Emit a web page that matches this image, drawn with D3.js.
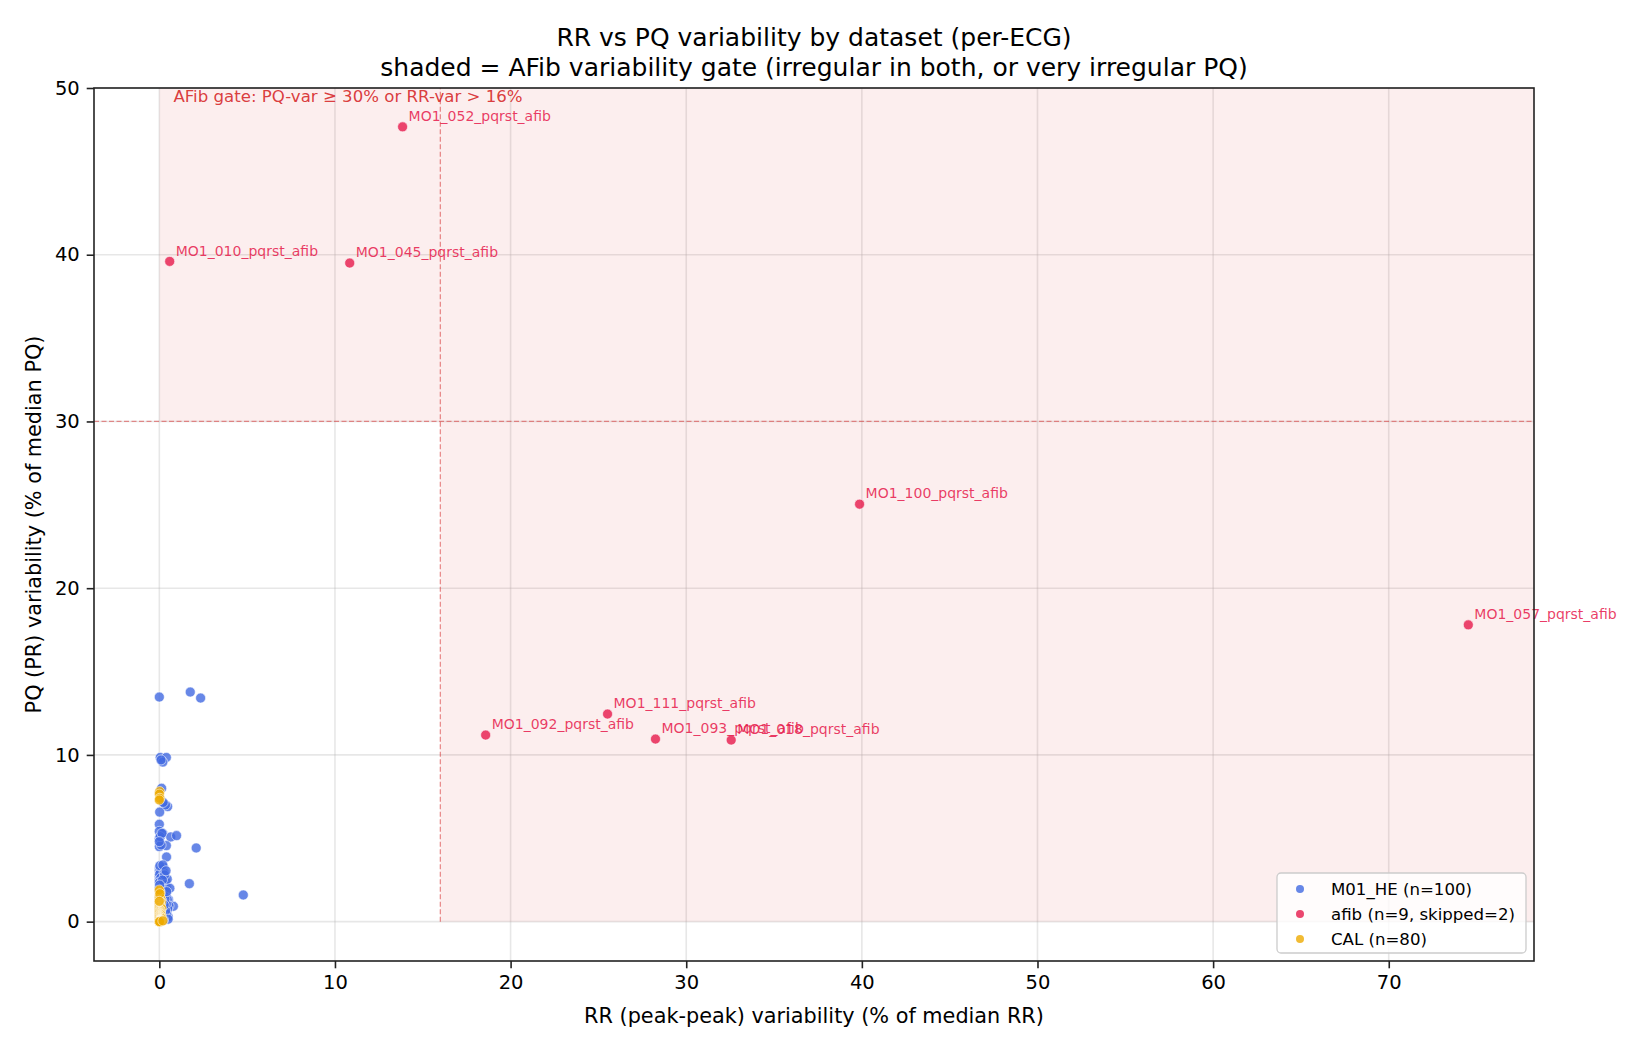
<!DOCTYPE html>
<html>
<head>
<meta charset="utf-8">
<script src="https://cdn.jsdelivr.net/npm/d3@7"></script>
<style>
  body { margin: 0; background: #fff; }
  svg text { font-family: "DejaVu Sans", sans-serif; }
</style>
</head>
<body>
<div class="chart"></div>
<script>
// RR vs PQ variability scatter

// M01_HE (n=100): RR variability (x) and PQ variability (y), % of median
var heRR = [0.00, 1.76, 2.35, 0.05, 0.40, 0.20, 0.13, 0.47, 0.35, 0.02,
  0.00, 0.00, 0.20, 0.65, 0.98, 0.00, 0.40, 0.00, 2.10, 0.41,
  1.71, 4.78, 0.80, 0.50, 0.52, 0.00, 0.10, 0.25, 0.00, 0.15,
  0.05, 0.12, 0.00, 0.30, 0.22, 0.00, 0.08, 0.35, 0.18, 0.40,
  0.25, 0.00, 0.10, 0.00, 0.30, 0.05, 0.15, 0.38, 0.20, 0.45,
  0.28, 0.10, 0.55, 0.35, 0.48, 0.20, 0.30, 0.42, 0.25, 0.15,
  0.05, 0.18, 0.02, 0.27, 0.08, 0.00, 0.33, 0.12, 0.22, 0.06,
  0.26, 0.40, 0.12, 0.00, 0.32, 0.60, 0.45, 0.03, 0.20, 0.15,
  0.00, 0.36, 0.08, 0.50, 0.24, 0.10, 0.05, 0.15, 0.00, 0.30,
  0.18, 0.02, 0.42, 0.14, 0.28, 0.06, 0.00, 0.38, 0.10, 0.22];
var hePQ = [13.47, 13.77, 13.41, 9.85, 9.85, 9.57, 8.00, 6.90, 7.00, 6.57,
  5.84, 5.42, 5.28, 5.08, 5.16, 5.00, 4.56, 4.50, 4.42, 3.88,
  2.28, 1.60, 0.92, 0.30, 1.32, 3.22, 3.22, 3.25, 3.06, 3.00,
  2.90, 2.72, 2.72, 2.65, 2.58, 2.52, 2.45, 2.40, 2.30, 2.10,
  2.06, 2.06, 1.98, 1.92, 1.85, 1.78, 1.70, 1.55, 1.45, 1.32,
  1.20, 1.10, 0.95, 0.85, 0.76, 0.70, 0.55, 0.45, 0.35, 0.20,
  3.10, 3.15, 2.85, 2.95, 2.62, 2.35, 2.20, 2.15, 1.95, 1.62,
  1.65, 1.05, 0.90, 1.40, 1.35, 2.00, 2.55, 3.35, 3.40, 0.50,
  0.80, 0.65, 0.30, 0.15, 0.10, 4.60, 5.10, 5.30, 4.80, 2.80,
  2.50, 2.20, 1.80, 1.25, 1.00, 0.60, 0.40, 3.05, 9.70, 7.15];

// afib (n=9)
var afibNames = ["MO1_052_pqrst_afib", "MO1_010_pqrst_afib", "MO1_045_pqrst_afib",
  "MO1_100_pqrst_afib", "MO1_057_pqrst_afib", "MO1_111_pqrst_afib",
  "MO1_092_pqrst_afib", "MO1_093_pqrst_afib", "MO1_018_pqrst_afib"];
var afibRR = [13.85, 0.59, 10.84, 39.87, 74.53, 25.52, 18.58, 28.25, 32.56];
var afibPQ = [47.67, 39.60, 39.50, 25.04, 17.80, 12.45, 11.19, 10.95, 10.89];

// CAL (n=80)
var calRR = [0.02, 0.00, 0.03, 0.00, 0.00, 0.05, 0.00, 0.02, 0.00, 0.08,
  0.00, 0.03, 0.00, 0.10, 0.00, 0.01, 0.00, 0.04, 0.00, 0.06,
  0.00, 0.02, 0.00, 0.12, 0.00, 0.03, 0.00, 0.05, 0.00, 0.01,
  0.00, 0.07, 0.00, 0.02, 0.00, 0.04, 0.00, 0.09, 0.00, 0.02,
  0.00, 0.03, 0.00, 0.06, 0.00, 0.01, 0.00, 0.04, 0.00, 0.15,
  0.00, 0.02, 0.00, 0.05, 0.00, 0.03, 0.00, 0.08, 0.00, 0.01,
  0.00, 0.04, 0.00, 0.02, 0.00, 0.06, 0.00, 0.03, 0.00, 0.10,
  0.00, 0.02, 0.00, 0.05, 0.00, 0.01, 0.00, 0.03, 0.00, 0.20];
var calPQ = [7.80, 7.65, 7.40, 7.30, 1.82, 1.75, 1.52, 1.60, 1.45, 1.38,
  1.30, 1.25, 1.18, 1.15, 1.10, 1.05, 1.00, 0.98, 0.95, 0.90,
  0.88, 0.85, 0.82, 0.80, 0.76, 0.72, 0.70, 0.68, 0.65, 0.62,
  0.60, 0.58, 0.55, 0.52, 0.50, 0.48, 0.45, 0.42, 0.40, 0.39,
  0.36, 0.34, 0.32, 0.30, 0.28, 0.26, 0.24, 0.22, 0.20, 0.18,
  0.16, 0.15, 0.14, 0.12, 0.11, 0.10, 0.09, 0.08, 0.07, 0.06,
  0.05, 0.05, 0.04, 0.04, 0.03, 0.03, 0.02, 0.02, 0.01, 0.01,
  0.00, 0.00, 0.00, 0.00, 0.00, 0.00, 1.90, 1.68, 1.22, 0.05];

var legendLabels = ["M01_HE (n=100)", "afib (n=9, skipped=2)", "CAL (n=80)"];
var xTicks = [0, 10, 20, 30, 40, 50, 60, 70];
var yTicks = [0, 10, 20, 30, 40, 50];
var gatePQ = 30;
var gateRR = 16;

var svgWidth = 1650;
var svgHeight = 1050;

var margin = {
  top: 88,
  bottom: 89,
  right: 116,
  left: 94
};

var height = svgHeight - margin.top - margin.bottom;
var width = svgWidth - margin.left - margin.right;

var colorHE = "#4169e1";
var colorAfib = "#e6194b";
var colorCAL = "#eeaa00";

var svg = d3.select(".chart")
  .append("svg")
  .attr("width", svgWidth)
  .attr("height", svgHeight);

var chartGroup = svg.append("g")
  .attr("transform", `translate(${margin.left}, ${margin.top})`);

// scales
var xLinearScale = d3.scaleLinear()
  .domain([-3.72, 78.27])
  .range([0, width]);

var yLinearScale = d3.scaleLinear()
  .domain([-2.36, 50])
  .range([height, 0]);

var xMax = xLinearScale.domain()[1];
var yMax = yLinearScale.domain()[1];

// grid
chartGroup.append("g")
  .selectAll("line")
  .data(xTicks)
  .enter()
  .append("line")
  .attr("x1", d => xLinearScale(d))
  .attr("x2", d => xLinearScale(d))
  .attr("y1", 0)
  .attr("y2", height)
  .attr("stroke", "#b0b0b0")
  .attr("stroke-opacity", 0.3)
  .attr("stroke-width", 1.6);

chartGroup.append("g")
  .selectAll("line")
  .data(yTicks)
  .enter()
  .append("line")
  .attr("x1", 0)
  .attr("x2", width)
  .attr("y1", d => yLinearScale(d))
  .attr("y2", d => yLinearScale(d))
  .attr("stroke", "#b0b0b0")
  .attr("stroke-opacity", 0.3)
  .attr("stroke-width", 1.6);

// shaded AFib gate
var shade = "rgba(214,39,40,0.08)";
chartGroup.append("rect")
  .attr("x", xLinearScale(0))
  .attr("y", yLinearScale(yMax))
  .attr("width", xLinearScale(xMax) - xLinearScale(0))
  .attr("height", yLinearScale(gatePQ) - yLinearScale(yMax))
  .attr("fill", shade);

chartGroup.append("rect")
  .attr("x", xLinearScale(gateRR))
  .attr("y", yLinearScale(gatePQ))
  .attr("width", xLinearScale(xMax) - xLinearScale(gateRR))
  .attr("height", yLinearScale(0) - yLinearScale(gatePQ))
  .attr("fill", shade);

// dashed thresholds
chartGroup.append("line")
  .attr("x1", 0)
  .attr("x2", width)
  .attr("y1", yLinearScale(gatePQ))
  .attr("y2", yLinearScale(gatePQ))
  .attr("stroke", "#d62728")
  .attr("stroke-opacity", 0.5)
  .attr("stroke-width", 1.3)
  .attr("stroke-dasharray", "5,2.5");

chartGroup.append("line")
  .attr("x1", xLinearScale(gateRR))
  .attr("x2", xLinearScale(gateRR))
  .attr("y1", yLinearScale(0))
  .attr("y2", 0)
  .attr("stroke", "#d62728")
  .attr("stroke-opacity", 0.5)
  .attr("stroke-width", 1.3)
  .attr("stroke-dasharray", "5,2.5");

chartGroup.append("text")
  .attr("x", xLinearScale(0.8))
  .attr("y", 13.5)
  .attr("font-size", "16.6px")
  .attr("fill", "#d62728")
  .attr("fill-opacity", 0.9)
  .text("AFib gate: PQ-var \u2265 30% or RR-var > 16%");

// points
function drawPoints(rr, pq, color) {
  return chartGroup.append("g")
    .selectAll("circle")
    .data(rr.map((d, i) => ({ x: d, y: pq[i] })))
    .enter()
    .append("circle")
    .attr("cx", d => xLinearScale(d.x))
    .attr("cy", d => yLinearScale(d.y))
    .attr("r", 5)
    .attr("fill", color)
    .attr("fill-opacity", 0.8)
    .attr("stroke", "#fff")
    .attr("stroke-opacity", 0.8)
    .attr("stroke-width", 0.7);
}

drawPoints(heRR, hePQ, colorHE);
drawPoints(afibRR, afibPQ, colorAfib);
drawPoints(calRR, calPQ, colorCAL);

// afib labels
chartGroup.append("g")
  .selectAll("text")
  .data(afibNames)
  .enter()
  .append("text")
  .attr("x", (d, i) => xLinearScale(afibRR[i]) + 6)
  .attr("y", (d, i) => yLinearScale(afibPQ[i]) - 5.7)
  .attr("font-size", "14px")
  .attr("fill", colorAfib)
  .attr("fill-opacity", 0.85)
  .text(d => d);

// axes
var bottomAxis = d3.axisBottom(xLinearScale).tickValues(xTicks).tickSize(7.3).tickPadding(7);
var leftAxis = d3.axisLeft(yLinearScale).tickValues(yTicks).tickSize(7.3).tickPadding(7);

var xAxis = chartGroup.append("g")
  .attr("transform", `translate(0, ${height})`)
  .call(bottomAxis);

var yAxis = chartGroup.append("g")
  .call(leftAxis);

[xAxis, yAxis].forEach(function(ax) {
  ax.select(".domain").remove();
  ax.selectAll(".tick line").attr("stroke", "#222").attr("stroke-width", 1.6);
  ax.selectAll(".tick text")
    .attr("font-family", "DejaVu Sans")
    .attr("font-size", "19.5px")
    .attr("fill", "#000");
});

// frame
chartGroup.append("rect")
  .attr("x", 0)
  .attr("y", 0)
  .attr("width", width)
  .attr("height", height)
  .attr("fill", "none")
  .attr("stroke", "#222")
  .attr("stroke-width", 1.6);

// legend
var legend = svg.append("g")
  .attr("transform", "translate(1277, 873)");

legend.append("rect")
  .attr("width", 249)
  .attr("height", 80)
  .attr("rx", 4)
  .attr("fill", "#fff")
  .attr("fill-opacity", 0.8)
  .attr("stroke", "#cccccc")
  .attr("stroke-width", 1.3);

var legendColors = [colorHE, colorAfib, colorCAL];
legendLabels.forEach(function(label, i) {
  legend.append("circle")
    .attr("cx", 23)
    .attr("cy", 16 + i * 25)
    .attr("r", 4)
    .attr("fill", legendColors[i])
    .attr("fill-opacity", 0.8);
  legend.append("text")
    .attr("x", 54)
    .attr("y", 16 + i * 25)
    .attr("dy", "0.35em")
    .attr("font-size", "16.6px")
    .attr("fill", "#000")
    .text(label);
});

// titles and axis labels
svg.append("text")
  .attr("x", margin.left + width / 2)
  .attr("y", 46)
  .attr("text-anchor", "middle")
  .attr("font-size", "25px")
  .text("RR vs PQ variability by dataset (per-ECG)");

svg.append("text")
  .attr("x", margin.left + width / 2)
  .attr("y", 76)
  .attr("text-anchor", "middle")
  .attr("font-size", "25px")
  .text("shaded = AFib variability gate (irregular in both, or very irregular PQ)");

svg.append("text")
  .attr("x", margin.left + width / 2)
  .attr("y", 1023)
  .attr("text-anchor", "middle")
  .attr("font-size", "20.8px")
  .text("RR (peak-peak) variability (% of median RR)");

svg.append("text")
  .attr("transform", "rotate(-90)")
  .attr("x", -(margin.top + height / 2))
  .attr("y", 41)
  .attr("text-anchor", "middle")
  .attr("font-size", "20.8px")
  .text("PQ (PR) variability (% of median PQ)");
</script>
</body>
</html>
